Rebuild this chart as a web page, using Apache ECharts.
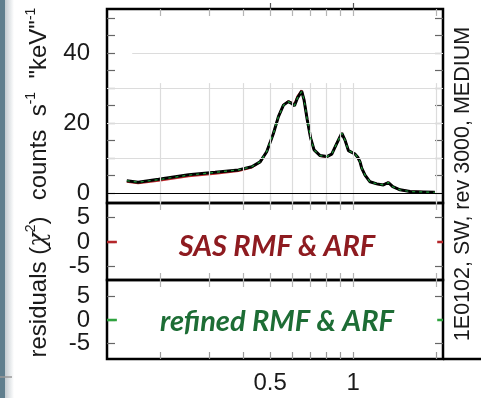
<!DOCTYPE html>
<html>
<head>
<meta charset="utf-8">
<script src="https://cdn.jsdelivr.net/npm/echarts@6/dist/echarts.min.js"></script>
<style>html,body{margin:0;padding:0;background:#fff}#c{width:481px;height:398px}</style>
</head>
<body>
<div id="c"></div>
<script>
// ---- data ----
const energy = [0.151,0.166,0.197,0.253,0.316,0.384,0.429,0.460,0.486,0.514,0.536,0.559,0.582,0.599,0.613,0.628,0.651,0.664,0.682,0.702,0.722,0.759,0.803,0.837,0.873,0.910,0.935,0.962,0.985,1.017,1.040,1.060,1.075,1.105,1.152,1.219,1.288,1.343,1.393,1.481,1.61,1.80,1.98];
const counts = [3.5,3.1,3.9,5.2,5.9,6.6,7.5,8.9,11.8,17.0,21.8,25.1,26.1,25.6,24.9,27.1,29.1,26.6,20.9,15.6,12.3,10.7,10.4,11.1,14.2,17.1,15.1,12.1,11.7,11.1,10.2,8.9,7.1,5.1,3.2,2.6,2.3,3.0,1.8,0.9,0.4,0.3,0.2];
const modelSAS = [3.2,2.8,3.5,4.8,5.5,6.3,7.3,8.8,11.8,17.0,21.8,25.2,26.2,25.8,25.3,27.6,29.3,26.6,20.9,15.6,12.3,10.6,10.3,11.1,14.2,17.1,15.1,12.1,11.7,11.1,10.2,8.9,7.1,5.1,3.2,2.6,2.3,3.0,1.8,0.9,0.4,0.3,0.2];
const modelRefined = [3.5,3.1,3.8,5.1,5.9,6.6,7.5,8.9,11.8,17.0,21.8,25.1,26.1,25.6,25.0,27.1,29.0,26.6,20.9,15.6,12.3,10.7,10.4,11.1,14.2,17.1,15.1,12.1,11.7,11.1,10.2,8.9,7.1,5.1,3.2,2.6,2.3,3.0,1.8,0.9,0.4,0.3,0.2];
const residEnergy = [0.128,0.139,null,2.02,2.12];
const residSAS = [0,0,null,0,0];
const residRefined = [0,0,null,0,0];
const energyGrid = [0.2,0.3,0.4,0.5,0.6,0.7,0.8,0.9,1,2];
const energyLabels = [0.5,1];
const countTicks = [0,5,10,15,20,25,30,35,40,45,50];
const countLabels = [0,20,40];
const countGrid = [10,20,30];
const residTicks = [-5,0,5];
const residOuterLabels = [-5,5];
const residZeroLabel = [0];
const energyRange = [0.128,2.12];
const countRange = [-2.86,52.57];
const residRange1 = [-7.8,8.0];
const residRange2 = [-8.3,8.5];

const lg = Math.log10;
const xMin = lg(energyRange[0]), xMax = lg(energyRange[1]);
const xy = (es, vs) => es.map((e,i) => e === null ? [ (lg(es[i-1])+lg(es[i+1]))/2, '-' ] : [lg(e), vs[i]]);

const FONT = 'Liberation Sans, Arial, sans-serif';
const TXT = '#1a1a1a';
const grids = [
  {left:107, top:9, width:336, height:194},
  {left:107, top:203, width:336, height:77},
  {left:107, top:280, width:336, height:79}
].map(g => Object.assign(g, {show:true, borderColor:'#000', borderWidth:2.5, backgroundColor:'transparent'}));

function xAx(gi, pos, opts){
  return Object.assign({type:'value', gridIndex:gi, position:pos, min:xMin, max:xMax,
    axisLine:{show:false, onZero:false}, splitLine:{show:false},
    axisTick:{show:true, inside:true, length:7, customValues:energyGrid.map(lg), lineStyle:{color:'#b5b5b5', width:1.2}},
    axisLabel:{show:false}}, opts||{});
}
function yAx(gi, pos, range, ticks, labels, opts){
  return Object.assign({type:'value', gridIndex:gi, position:pos, offset:0, min:range[0], max:range[1],
    axisLine:{show:false, onZero:false}, splitLine:{show:false},
    axisTick: ticks ? {show:true, inside:true, length:8, customValues:ticks, lineStyle:{color:'#666', width:1.2}} : {show:false},
    axisLabel: labels ? {show:true, customValues:labels, margin:17, fontSize:24, fontFamily:FONT, color:TXT,
      hideOverlap:false, showMinLabel:true, showMaxLabel:true} : {show:false}}, opts||{});
}

const xAxes = [
  xAx(0,'bottom'),
  xAx(0,'top'),
  xAx(0,'top',{axisTick:{show:true, inside:false, length:6, customValues:energyLabels.map(lg), lineStyle:{color:'#555', width:1.2}}}),
  xAx(1,'bottom'), xAx(1,'top'),
  xAx(2,'bottom',{axisTick:{show:true, inside:true, length:7, customValues:energyGrid.map(lg), lineStyle:{color:'#999', width:1.2}},
      axisLabel:{show:true, customValues:energyLabels.map(lg), margin:12, fontSize:24, fontFamily:FONT, color:TXT,
      showMinLabel:true, showMaxLabel:true,
      formatter: v => String(+Math.pow(10,v).toPrecision(3))}}),
  xAx(2,'top')
];
const yAxes = [
  yAx(0,'left',countRange,countTicks,countLabels),
  yAx(0,'right',countRange,countTicks,null),
  yAx(1,'left',residRange1,residTicks,residOuterLabels),
  yAx(1,'right',residRange1,[-5,5],null),
  yAx(1,'left',residRange1,null,residZeroLabel),
  yAx(2,'left',residRange2,residTicks,residOuterLabels),
  yAx(2,'right',residRange2,[-5,5],null),
  yAx(2,'left',residRange2,null,residZeroLabel)
];

const gridColor = '#dcdcdc';
const topOfVertGrid = 31.4;
const markData = [];
energyGrid.forEach(e => markData.push([{coord:[lg(e), countRange[0]]},{coord:[lg(e), topOfVertGrid]}]));
countGrid.forEach(v => markData.push([{coord:[xMin, v]},{coord:[xMax, v]}]));
markData.push([{coord:[lg(0.158), 40]},{coord:[xMax, 40]}]);
markData.push([{coord:[xMin, 0]},{coord:[xMax, 0], lineStyle:{color:'#000', width:1.2}}]);

const option = {
  animation:false,
  grid: grids,
  xAxis: xAxes,
  yAxis: yAxes,
  series: [
    {type:'line', xAxisIndex:0, yAxisIndex:0, data:[], z:1, silent:true,
     markLine:{silent:true, symbol:'none', label:{show:false}, animation:false,
       lineStyle:{color:gridColor, width:1.2, type:'solid'}, data:markData}},
    {type:'line', xAxisIndex:0, yAxisIndex:0, data:xy(energy, modelSAS), showSymbol:false, z:3,
     lineStyle:{color:'#c0282b', width:2}},
    {type:'line', xAxisIndex:0, yAxisIndex:0, data:xy(energy, counts), showSymbol:false, z:4,
     lineStyle:{color:'#000', width:3}},
    {type:'line', xAxisIndex:0, yAxisIndex:0, data:xy(energy, modelRefined), showSymbol:false, z:5,
     lineStyle:{color:'#1f9a3a', width:1.2, type:[3,4]}},
    {type:'line', xAxisIndex:3, yAxisIndex:2, data:xy(residEnergy, residSAS), showSymbol:false, connectNulls:false,
     lineStyle:{color:'#b5262a', width:2.5}},
    {type:'line', xAxisIndex:5, yAxisIndex:5, data:xy(residEnergy, residRefined), showSymbol:false, connectNulls:false,
     lineStyle:{color:'#2fa33f', width:2.5}}
  ],
  graphic: [
    {type:'rect', shape:{x:0,y:0,width:5,height:398}, style:{fill:'#5f7e8d'}},
    {type:'rect', shape:{x:5,y:0,width:9,height:398}, style:{fill:new echarts.graphic.LinearGradient(0,0,1,0,[{offset:0,color:'#c3cbd0'},{offset:1,color:'#ffffff'}])}},
    {type:'line', shape:{x1:0,y1:377,x2:12,y2:377}, style:{stroke:'#9a9a9a', lineWidth:1.5}},
    {type:'line', shape:{x1:443,y1:359,x2:481,y2:359}, style:{stroke:'#000', lineWidth:2.5}},
    {type:'text', x:39, y:104, rotation:Math.PI/2,
     style:{text:'{a|counts  s}{s|-1}{a|  "keV"}{s|-1}', align:'center', verticalAlign:'middle',
       rich:{a:{fontSize:24, fontFamily:FONT, fill:TXT, lineHeight:30},
             s:{fontSize:14, fontFamily:FONT, fill:TXT, lineHeight:30, verticalAlign:'top'}}}},
    {type:'text', x:39, y:287, rotation:Math.PI/2,
     style:{text:'{a|residuals (}{i|χ}{s|2}{a|)}', align:'center', verticalAlign:'middle',
       rich:{a:{fontSize:24, fontFamily:FONT, fill:TXT, lineHeight:30},
             i:{fontSize:24, fontFamily:'DejaVu Serif, serif', fontStyle:'italic', fill:TXT, lineHeight:30},
             s:{fontSize:14, fontFamily:FONT, fill:TXT, lineHeight:30, verticalAlign:'top'}}}},
    {type:'text', x:463, y:184, rotation:Math.PI/2,
     style:{text:'1E0102, SW, rev 3000, MEDIUM', align:'center', verticalAlign:'middle', fontSize:21.5, fontFamily:FONT, fill:TXT}},
    {type:'text', x:277, y:247,
     style:{text:'SAS RMF & ARF', align:'center', verticalAlign:'middle', fontSize:29, fontWeight:'bold', fontStyle:'italic', fontFamily:'Lato, Open Sans, sans-serif', fill:'#8e1b20'}},
    {type:'text', x:277, y:322,
     style:{text:'refined RMF & ARF', align:'center', verticalAlign:'middle', fontSize:29, fontWeight:'bold', fontStyle:'italic', fontFamily:'Lato, Open Sans, sans-serif', fill:'#1d6d35'}}
  ]
};
const chart = echarts.init(document.getElementById('c'), null, {renderer:'canvas'});
chart.setOption(option);
</script>
</body>
</html>
